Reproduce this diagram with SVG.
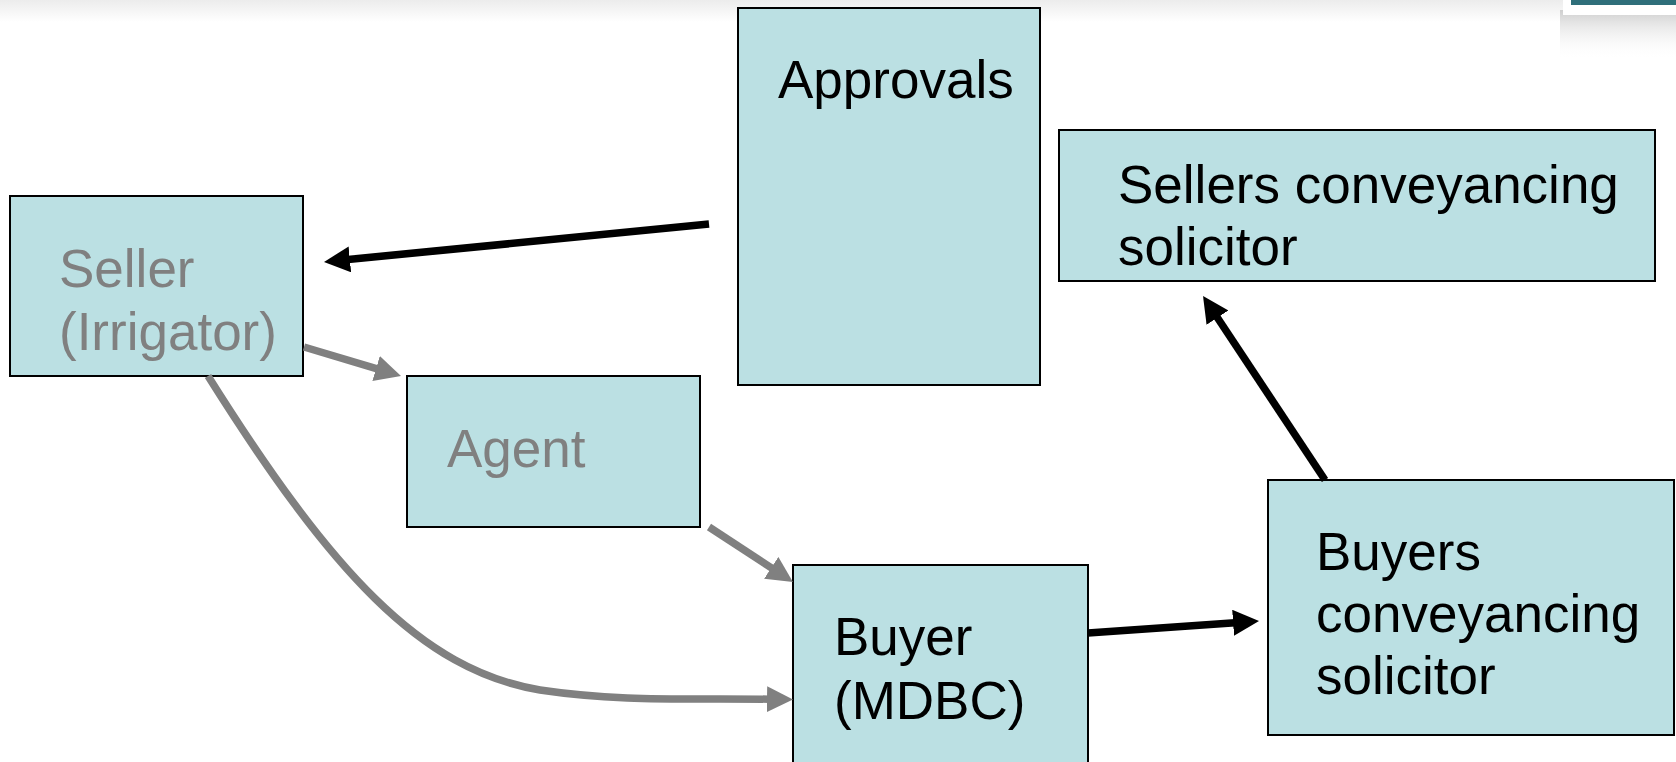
<svg xmlns="http://www.w3.org/2000/svg" width="1676" height="762" viewBox="0 0 1676 762">
<defs>
<linearGradient id="topfade" x1="0" y1="0" x2="0" y2="1">
<stop offset="0" stop-color="#ececec"/>
<stop offset="1" stop-color="#ffffff"/>
</linearGradient>
<linearGradient id="shadow" x1="0" y1="0" x2="0" y2="1">
<stop offset="0" stop-color="#cfcfcf"/>
<stop offset="1" stop-color="#ffffff" stop-opacity="0"/>
</linearGradient>
<marker id="ab" markerUnits="userSpaceOnUse" markerWidth="28" markerHeight="26" refX="2" refY="13" orient="auto">
<path d="M0,0 L26,13 L0,26 Z" fill="#000"/>
</marker>
<marker id="ag" markerUnits="userSpaceOnUse" markerWidth="28" markerHeight="26" refX="2" refY="13" orient="auto">
<path d="M0,0 L26,13 L0,26 Z" fill="#808080"/>
</marker>
</defs>
<style>
.box{fill:#bbe0e3;stroke:#000;stroke-width:2}
.t{font-family:"Liberation Sans",Arial,sans-serif;font-size:53px;fill:#000}
.g{fill:#808080}
.cb{fill:none;stroke:#000;stroke-width:7.5;marker-end:url(#ab)}
.cg{fill:none;stroke:#808080;stroke-width:7.5;marker-end:url(#ag)}
</style>
<rect x="0" y="0" width="1676" height="762" fill="#fff"/>
<rect x="0" y="0" width="1676" height="22" fill="url(#topfade)"/>
<rect x="1560" y="10" width="116" height="50" fill="url(#shadow)"/>
<rect x="1563" y="0" width="113" height="15" fill="#fff"/>
<rect x="1571" y="0" width="105" height="5" fill="#2f6f7a"/>

<g id="approvals">
<rect class="box" x="738" y="8" width="302" height="377"/>
<text class="t" x="778" y="98">Approvals</text>
</g>
<g id="sellers-solicitor">
<rect class="box" x="1059" y="130" width="596" height="151"/>
<text class="t" x="1118" y="203">Sellers conveyancing</text>
<text class="t" x="1118" y="265">solicitor</text>
</g>
<g id="seller">
<rect class="box" x="10" y="196" width="293" height="180"/>
<text class="t g" x="59" y="287">Seller</text>
<text class="t g" x="59" y="350">(Irrigator)</text>
</g>
<g id="agent">
<rect class="box" x="407" y="376" width="293" height="151"/>
<text class="t g" x="447" y="467">Agent</text>
</g>
<g id="buyer">
<rect class="box" x="793" y="565" width="295" height="200"/>
<text class="t" x="834" y="655">Buyer</text>
<text class="t" x="834" y="719">(MDBC)</text>
</g>
<g id="buyers-solicitor">
<rect class="box" x="1268" y="480" width="406" height="255"/>
<text class="t" x="1316" y="570">Buyers</text>
<text class="t" x="1316" y="632">conveyancing</text>
<text class="t" x="1316" y="694">solicitor</text>
</g>

<g id="connectors">
<line class="cb" x1="709" y1="224" x2="347.9" y2="259.6"/>
<line class="cg" x1="304" y1="347" x2="378" y2="369.1"/>
<path class="cg" d="M208,376 C330,570 420,670 540,690 C620,702 690,698 769,699.2"/>
<line class="cg" x1="709" y1="527" x2="772.9" y2="568.9"/>
<line class="cb" x1="1088" y1="633" x2="1235.1" y2="622.7"/>
<line class="cb" x1="1325" y1="480" x2="1216.3" y2="316"/>
</g>
</svg>
